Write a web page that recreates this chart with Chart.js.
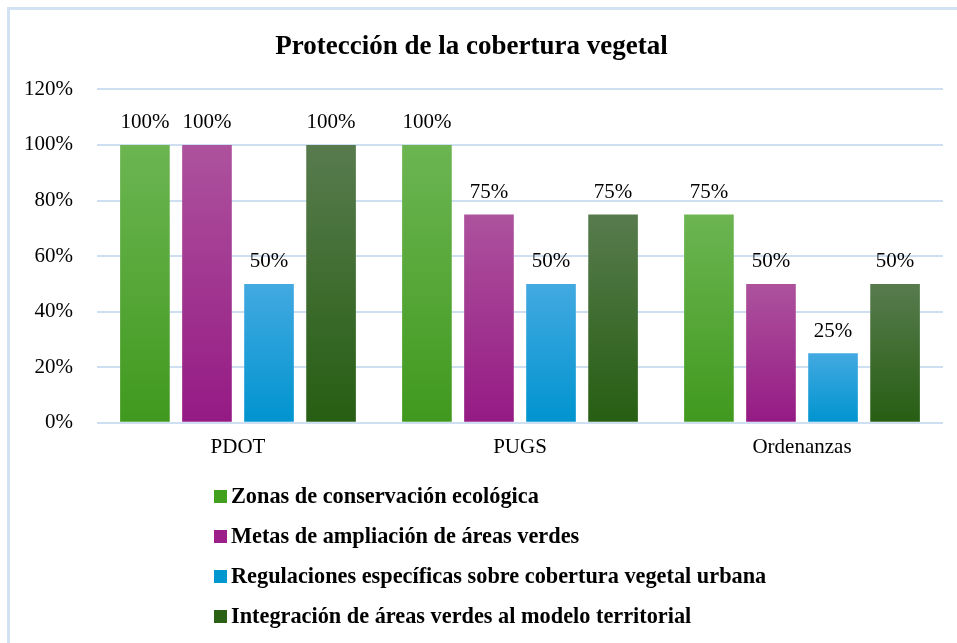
<!DOCTYPE html>
<html>
<head>
<meta charset="utf-8">
<script src="https://cdn.jsdelivr.net/npm/chart.js@4"></script>
<style>
  body { margin: 0; background: #fff; }
  #wrap { position: relative; width: 957px; height: 643px; overflow: hidden; }
  #frame { position: absolute; left: 7px; top: 7px; width: 1000px; height: 700px; border: 3px solid #d3e2f3; box-sizing: border-box; }
  #chart { position: absolute; left: 0; top: 0; }
  #legend { position: absolute; left: 214px; top: 476px; font-family: "Liberation Serif", "Times New Roman", serif; font-weight: bold; font-size: 22.3px; color: #000; }
  #legend div { height: 40px; display: flex; align-items: center; }
  #legend span.box { display: inline-block; width: 13px; height: 13px; margin-right: 4px; }
</style>
</head>
<body>
<div id="wrap">
  <div id="frame"></div>
  <canvas id="chart" width="957" height="643"></canvas>
  <div id="legend"></div>
</div>
<script>
// Data
const categories = ["PDOT", "PUGS", "Ordenanzas"];
const seriesNames = [
    "Zonas de conservación ecológica",
    "Metas de ampliación de áreas verdes",
    "Regulaciones específicas sobre cobertura vegetal urbana",
    "Integración de áreas verdes al modelo territorial"
];
const zonas = [100, 100, 75];
const metas = [100, 75, 50];
const regulaciones = [50, 50, 25];
const integracion = [100, 75, 50];
const yTicks = [0, 20, 40, 60, 80, 100, 120];

// top / bottom colors of each bar gradient, plus solid legend colour
const palette = [
    { top: "#6cb552", bottom: "#40991e", solid: "#43a01e" },
    { top: "#ad529d", bottom: "#951a84", solid: "#9c1f8a" },
    { top: "#43a9e1", bottom: "#0094cf", solid: "#0096d0" },
    { top: "#587b4e", bottom: "#265e12", solid: "#2a6115" }
];

const serif = '"Liberation Serif", "Times New Roman", serif';

function barGradient(idx) {
    return function(context) {
        const chart = context.chart;
        const c = palette[idx];
        if (!chart.chartArea || !chart.scales.y || context.raw == null) return c.solid;
        const y = chart.scales.y;
        const top = y.getPixelForValue(context.raw);
        const bottom = y.getPixelForValue(0);
        if (!isFinite(top) || !isFinite(bottom) || top === bottom) return c.solid;
        const g = chart.ctx.createLinearGradient(0, top, 0, bottom);
        g.addColorStop(0, c.top);
        g.addColorStop(1, c.bottom);
        return g;
    };
}

// Draw the value labels above every bar
const valueLabels = {
    id: "valueLabels",
    afterDatasetsDraw(chart) {
        const ctx = chart.ctx;
        ctx.save();
        ctx.font = "21px " + serif;
        ctx.fillStyle = "#000";
        ctx.textAlign = "center";
        ctx.textBaseline = "middle";
        chart.data.datasets.forEach((ds, i) => {
            chart.getDatasetMeta(i).data.forEach((bar, j) => {
                ctx.fillText(ds.data[j] + "%", bar.x, bar.y - 22);
            });
        });
        ctx.restore();
    }
};

const allSeries = [zonas, metas, regulaciones, integracion];

const chart = new Chart(document.getElementById("chart"), {
    type: "bar",
    data: {
        labels: categories,
        datasets: allSeries.map((vals, i) => ({
            label: seriesNames[i],
            data: vals,
            backgroundColor: barGradient(i),
            borderWidth: 0,
            barPercentage: 0.8,
            categoryPercentage: 0.88
        }))
    },
    options: {
        responsive: false,
        animation: false,
        layout: { padding: { left: 0, right: 14, top: 14, bottom: 171 } },
        plugins: {
            legend: { display: false },
            tooltip: { enabled: false },
            title: {
                display: true,
                text: "Protección de la cobertura vegetal",
                color: "#000",
                font: { family: serif, size: 27, weight: "bold" },
                padding: { top: 17, bottom: 26 }
            }
        },
        scales: {
            x: {
                grid: { display: false, drawTicks: false },
                border: { display: false },
                ticks: { color: "#000", font: { family: serif, size: 21 }, padding: 12 }
            },
            y: {
                min: 0,
                max: 120,
                afterBuildTicks(scale) {
                    scale.ticks = yTicks.map(v => ({ value: v }));
                },
                grid: { color: "#cfdff2", lineWidth: 2, drawTicks: false },
                border: { display: false },
                ticks: {
                    color: "#000",
                    font: { family: serif, size: 21 },
                    padding: 24,
                    callback: v => v + "%"
                }
            }
        }
    },
    plugins: [valueLabels]
});

// Legend as a vertical list under the chart
const legend = document.getElementById("legend");
chart.data.datasets.forEach((ds, i) => {
    const row = document.createElement("div");
    const box = document.createElement("span");
    box.className = "box";
    box.style.background = palette[i].solid;
    row.appendChild(box);
    row.appendChild(document.createTextNode(ds.label));
    legend.appendChild(row);
});
</script>
</body>
</html>
